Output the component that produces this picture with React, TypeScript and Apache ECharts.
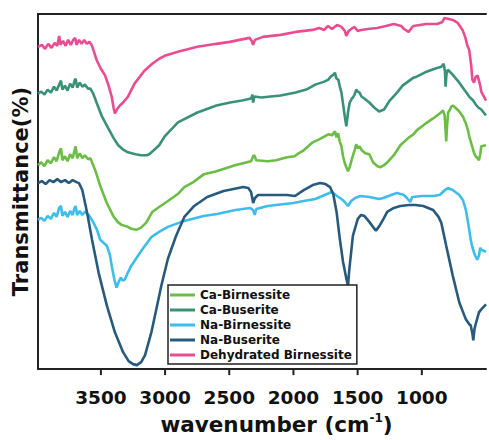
import React, { useEffect, useRef } from "react";
import * as echarts from "echarts";

// [wavenumber (cm-1), transmittance (arbitrary, offset)]
const caBirnessite: number[][] = [
  [3990,205],[3965,208],[3940,204],[3915,210],[3890,207],[3865,213],[3845,209],[3825,218],[3811,222],[3800,210],[3780,214],[3760,209],[3740,216],[3720,212],[3705,220],[3697,224],[3685,212],[3665,217],[3645,212],[3625,215],[3600,211],[3582,212],[3544,200],[3505,184],[3454,167],[3404,154],[3370,148],[3339,145],[3290,143],[3263,141],[3225,140],[3190,142],[3148,147],[3100,158],[3046,163],[2978,169],[2901,176],[2850,183],[2780,188],[2697,196],[2600,199],[2455,205],[2330,209],[2310,215],[2302,214],[2290,210],[2200,209],[2136,210],[2050,213],[1990,214],[1960,217],[1920,220],[1850,228],[1800,231],[1728,236],[1700,235],[1677,239],[1665,233],[1652,237],[1640,229],[1626,224],[1614,214],[1600,207],[1588,203],[1575,199],[1562,203],[1545,211],[1524,220],[1511,226],[1499,222],[1485,224],[1468,220],[1440,217],[1409,216],[1380,208],[1346,204],[1320,203],[1294,205],[1260,209],[1218,215],[1167,225],[1100,233],[1065,236],[1040,240],[980,246],[912,252],[860,257],[835,260],[822,255],[815,240],[810,229],[803,245],[795,258],[784,260],[770,264],[759,265],[740,263],[708,259],[680,254],[657,247],[640,240],[631,234],[610,225],[595,218],[581,214],[565,212],[555,210],[545,216],[537,224],[500,225]
];

const caBuserite: number[][] = [
  [3990,277],[3965,279],[3940,276],[3915,281],[3890,278],[3865,284],[3845,280],[3825,286],[3811,290],[3800,281],[3780,285],[3760,280],[3740,287],[3720,283],[3705,290],[3697,292],[3685,283],[3665,288],[3645,284],[3625,286],[3600,282],[3582,282],[3560,277],[3531,267],[3492,254],[3442,242],[3400,232],[3365,225],[3330,221],[3289,218],[3230,216],[3186,215],[3144,215],[3123,216],[3080,221],[3046,225],[3003,234],[2900,248],[2748,258],[2600,265],[2493,268],[2400,270],[2330,272],[2320,276],[2314,268],[2305,274],[2250,273],[2100,275],[1983,278],[1900,281],[1830,286],[1760,289],[1728,291],[1710,294],[1688,296],[1677,298],[1665,292],[1650,291],[1639,284],[1626,278],[1600,254],[1588,244],[1575,258],[1562,268],[1545,272],[1537,273],[1524,276],[1511,281],[1499,279],[1485,278],[1470,274],[1448,272],[1409,268],[1371,263],[1333,259],[1294,261],[1250,270],[1193,278],[1150,285],[1065,293],[1040,294],[963,299],[900,302],[848,304],[830,307],[820,300],[815,284],[808,296],[797,301],[760,296],[708,288],[670,281],[631,274],[600,270],[580,266],[560,263],[537,261],[500,255]
];

const naBirnessite: number[][] = [
  [3990,150],[3965,152],[3940,149],[3915,154],[3890,151],[3865,157],[3845,153],[3825,162],[3811,164],[3800,154],[3780,158],[3760,153],[3740,159],[3720,155],[3705,162],[3697,164],[3685,155],[3665,159],[3645,155],[3625,158],[3595,155],[3557,147],[3530,140],[3505,130],[3454,124],[3430,115],[3416,104],[3395,90],[3378,82],[3360,88],[3345,92],[3330,89],[3314,90],[3290,97],[3263,104],[3185,119],[3105,133],[3046,138],[2978,143],[2850,149],[2700,154],[2595,156],[2450,160],[2340,162],[2315,160],[2302,155],[2290,161],[2200,164],[2136,165],[2000,167],[1920,169],[1830,171],[1702,178],[1660,174],[1626,171],[1600,168],[1575,164],[1550,169],[1520,172],[1480,174],[1409,173],[1333,171],[1300,172],[1218,176],[1193,177],[1140,175],[1116,172],[1090,168],[1075,173],[1000,174],[912,174],[861,175],[820,180],[797,182],[760,180],[708,175],[680,170],[657,160],[640,148],[619,130],[605,122],[593,117],[580,113],[568,110],[555,114],[545,122],[537,120],[500,118]
];

const naBuserite: number[][] = [
  [3990,187],[3960,189],[3930,186],[3900,190],[3870,188],[3840,191],[3810,188],[3780,190],[3750,187],[3720,190],[3690,188],[3671,187],[3645,180],[3607,157],[3569,130],[3518,97],[3454,64],[3391,37],[3327,17],[3284,8],[3250,5],[3220,4],[3186,7],[3156,14],[3105,38],[3067,61],[3029,84],[2978,111],[2914,134],[2850,153],[2773,164],[2672,173],[2544,179],[2391,183],[2352,182],[2330,178],[2314,167],[2300,172],[2276,175],[2200,175],[2136,175],[2050,175],[1988,174],[1920,180],[1850,185],[1792,187],[1750,186],[1715,183],[1690,176],[1664,158],[1639,131],[1614,108],[1588,91],[1575,84],[1565,100],[1537,134],[1499,151],[1473,155],[1448,154],[1409,148],[1358,139],[1330,144],[1294,152],[1270,158],[1218,162],[1167,164],[1100,165],[1050,165],[989,164],[912,160],[870,153],[848,147],[810,124],[759,94],[708,67],[657,50],[630,45],[619,44],[605,35],[599,29],[590,40],[581,45],[555,57],[537,60],[500,65]
];

const dehydratedBirnessite: number[][] = [
  [3990,324],[3960,326],[3935,322],[3910,327],[3885,323],[3860,328],[3840,325],[3825,335],[3815,326],[3795,330],[3775,325],[3755,331],[3735,326],[3715,331],[3700,333],[3690,326],[3670,331],[3650,327],[3630,331],[3610,327],[3590,329],[3569,325],[3531,310],[3500,302],[3467,295],[3440,285],[3416,274],[3400,262],[3391,257],[3370,262],[3352,265],[3327,268],[3289,274],[3238,287],[3161,300],[3100,307],[3046,312],[3003,315],[2900,319],[2748,324],[2600,327],[2496,329],[2343,333],[2325,330],[2314,326],[2300,331],[2238,334],[2100,336],[1983,339],[1850,341],[1800,343],[1760,341],[1731,345],[1700,342],[1660,346],[1626,344],[1600,340],[1588,335],[1570,340],[1550,342],[1524,344],[1500,340],[1473,341],[1420,342],[1348,343],[1280,345],[1218,347],[1160,345],[1141,342],[1103,339],[1080,343],[1065,345],[966,347],[880,347],[840,349],[823,353],[790,352],[759,351],[720,348],[683,341],[660,333],[645,325],[631,321],[615,305],[606,291],[593,288],[580,294],[565,295],[555,290],[545,285],[537,279],[500,270]
];

const seriesNames = ["Ca-Birnessite", "Ca-Buserite", "Na-Birnessite", "Na-Buserite", "Dehydrated Birnessite"];
const seriesColors = ["#6cbd45", "#3b9178", "#3dbdea", "#275a7d", "#ea4c92"];
const seriesData = [caBirnessite, caBuserite, naBirnessite, naBuserite, dehydratedBirnessite];
const tickLabels = [3500, 3000, 2500, 2000, 1500, 1000];

const FONT = "DejaVu Sans";
const Y_MIN = 0;

export default function App() {
  const ref = useRef<HTMLDivElement>(null);
  useEffect(() => {
    if (!ref.current) return;
    const chart = echarts.init(ref.current, undefined, { renderer: "svg" });
    chart.setOption({
      animation: false,
      backgroundColor: "#ffffff",
      grid: { left: 38, top: 14, bottom: 69, right: -5 },
      legend: {
        data: seriesNames,
        orient: "vertical",
        left: 168,
        top: 285,
        padding: [4, 5, 3, 2],
        itemGap: 3,
        itemWidth: 25,
        itemHeight: 3,
        icon: "rect",
        backgroundColor: "#ffffff",
        borderColor: "#222",
        borderWidth: 1.5,
        textStyle: { fontFamily: FONT, fontWeight: "bold", fontSize: 12, color: "#111" },
      },
      xAxis: [
        {
          type: "value",
          inverse: true,
          min: 500,
          max: 3990,
          interval: 500,
          splitLine: { show: false },
          axisLine: { show: true, lineStyle: { color: "#222", width: 2 } },
          axisTick: { show: false },
          axisLabel: {
            margin: 19,
            fontFamily: FONT,
            fontWeight: "bold",
            fontSize: 18.5,
            color: "#111",
            formatter: (v: number) => (tickLabels.includes(v) ? String(v) : ""),
          },
          name: "{a|wavenumber (cm}{s|-1}{a|)}",
          nameLocation: "middle",
          nameGap: 42,
          nameTextStyle: {
            padding: [0, 0, 0, 29],
            rich: {
              a: { fontFamily: FONT, fontWeight: "bold", fontSize: 21.5, color: "#111", lineHeight: 24 },
              s: { fontFamily: FONT, fontWeight: "bold", fontSize: 12, color: "#111", verticalAlign: "top", lineHeight: 24 },
            },
          },
        },
        {
          type: "value",
          position: "top",
          inverse: true,
          min: 500,
          max: 3990,
          interval: 500,
          splitLine: { show: false },
          axisLine: { show: true, lineStyle: { color: "#222", width: 2 } },
          axisTick: { show: false },
          axisLabel: { show: false },
        },
      ],
      yAxis: {
        type: "value",
        min: Y_MIN,
        max: 357,
        splitLine: { show: false },
        axisLine: { show: true, lineStyle: { color: "#222", width: 2 } },
        axisTick: { show: false },
        axisLabel: { show: false },
        name: "Transmittance(%)",
        nameLocation: "middle",
        nameGap: 7,
        nameTextStyle: { fontFamily: FONT, fontWeight: "bold", fontSize: 21, color: "#111" },
      },
      series: seriesData.map((d, i) => ({
        name: seriesNames[i],
        type: "line",
        data: d,
        showSymbol: false,
        symbol: "none",
        lineStyle: { color: seriesColors[i], width: 2.6 },
        itemStyle: { color: seriesColors[i] },
        z: 2,
      })),
    });
    // outward tick marks at the labelled wavenumbers, placed through the axis scale
    const yBase = chart.convertToPixel({ yAxisIndex: 0 }, Y_MIN) as number;
    chart.setOption({
      graphic: tickLabels.map((v) => {
        const x = chart.convertToPixel({ xAxisIndex: 0 }, v) as number;
        return {
          type: "line",
          shape: { x1: x, y1: yBase, x2: x, y2: yBase + 6 },
          style: { stroke: "#222", lineWidth: 2 },
          silent: true,
        };
      }),
    });
    return () => chart.dispose();
  }, []);
  return <div ref={ref} style={{ position: "absolute", left: 0, top: 0, width: 489, height: 440 }} />;
}
